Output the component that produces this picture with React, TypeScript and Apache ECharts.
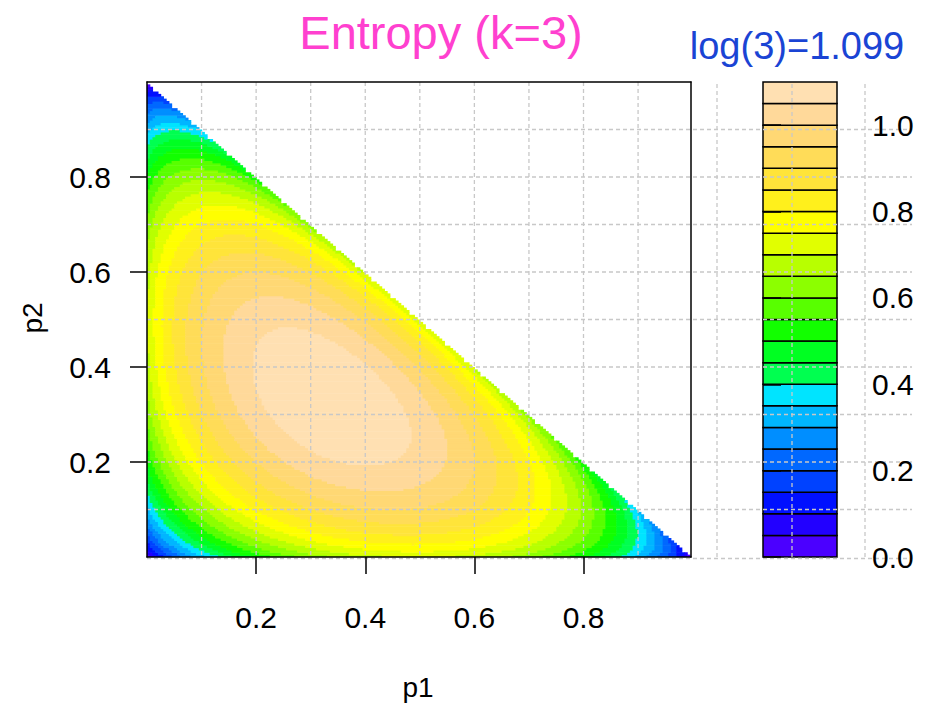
import React, { useEffect, useRef } from 'react';
import * as echarts from 'echarts';

// ---- data ----
const TITLE = 'Entropy (k=3)';
const SUBTITLE = 'log(3)=1.099';
const X_NAME = 'p1';
const Y_NAME = 'p2';
const LEVELS = [0, 0.05, 0.1, 0.15, 0.2, 0.25, 0.3, 0.35, 0.4, 0.45, 0.5, 0.55, 0.6, 0.65, 0.7, 0.75, 0.8, 0.85, 0.9, 0.95, 1.0, 1.05, 1.1];
const LEVEL_COLORS = [
  '#4B00FF', '#2200FF', '#0010FF', '#0042FF', '#0068FF', '#008EFF', '#00B6FF', '#00E4FF',
  '#00FF50', '#00FF22', '#12FF00', '#58FF00', '#8CFF00', '#B8FF00', '#E1FF00', '#FFFF00',
  '#FFF01C', '#FFE43A', '#FFDC58', '#FFD874', '#FFD99A', '#FFE0B2',
];
const X_TICKS = [0.2, 0.4, 0.6, 0.8];
const Y_TICKS = [0.2, 0.4, 0.6, 0.8];
const KEY_TICKS = [0, 0.2, 0.4, 0.6, 0.8, 1.0];
const GRID_STEPS = [0.1, 0.2, 0.3, 0.4, 0.5, 0.6, 0.7, 0.8, 0.9];
const H_GRID_STEPS = [0, 0.1, 0.2, 0.3, 0.4, 0.5, 0.6, 0.7, 0.8, 0.9];
const N = 200; // sampling resolution of the simplex
const MESH = 170; // evaluation mesh of the original contour (edge staircase)

// Shannon entropy of (p1, p2, 1 - p1 - p2) – the quantity this chart plots
function entropy(p1: number, p2: number): number {
  const p3 = 1 - p1 - p2;
  let h = 0;
  for (const p of [p1, p2, p3]) if (p > 0) h -= p * Math.log(p);
  return h;
}

function levelIndex(h: number): number {
  for (let k = 0; k < LEVELS.length - 1; k++) {
    if (h < LEVELS[k + 1]) return k;
  }
  return LEVELS.length - 2;
}

// run-length encoded rows of sampled cells: [x0, x1, y0, y1, level]
function buildRuns(): number[][] {
  const runs: number[][] = [];
  for (let j = 0; j < N; j++) {
    const y0 = j / N, y1 = (j + 1) / N, yc = (j + 0.5) / N;
    let cur = -1, start = 0;
    let i = 0;
    for (; i < N; i++) {
      const xc = (i + 0.5) / N;
      if (Math.floor(xc * MESH) + Math.floor(yc * MESH) > MESH - 2) break;
      const li = levelIndex(entropy(xc, yc));
      if (li !== cur) {
        if (cur >= 0) runs.push([start / N, i / N, y0, y1, cur]);
        cur = li; start = i;
      }
    }
    if (cur >= 0) runs.push([start / N, i / N, y0, y1, cur]);
  }
  return runs;
}

const FONT = '"Liberation Sans", Arial, Helvetica, sans-serif';
const GRID_COLOR = '#c8c8c8';

export default function App() {
  const ref = useRef<HTMLDivElement>(null);
  useEffect(() => {
    document.body.style.margin = '0';
    if (!ref.current) return;
    const chart = echarts.init(ref.current, null, { renderer: 'svg' });
    const runs = buildRuns();
    const keyData = LEVEL_COLORS.map((_, i) => [LEVELS[i], LEVELS[i + 1], i]);
    const X_MAX = 0.997;

    const axisLineStyle = { color: '#000', width: 1.5 };
    chart.setOption({
      animation: false,
      grid: [
        { left: 147, top: 82, width: 544, height: 475 },
        { left: 763, top: 82, width: 74, height: 475 },
      ],
      xAxis: [
        {
          gridIndex: 0, type: 'value', min: 0, max: X_MAX, position: 'bottom', z: 10,
          axisLine: { show: true, onZero: false, lineStyle: axisLineStyle },
          axisTick: { show: true, customValues: X_TICKS, length: 17, lineStyle: axisLineStyle },
          axisLabel: { show: true, customValues: X_TICKS, fontSize: 30, color: '#000', fontFamily: FONT, margin: 45, formatter: (v: number) => v.toFixed(1) },
          splitLine: { show: false },
        },
        {
          gridIndex: 0, type: 'value', min: 0, max: X_MAX, position: 'top', z: 10,
          axisLine: { show: true, onZero: false, lineStyle: axisLineStyle },
          axisTick: { show: false }, axisLabel: { show: false }, splitLine: { show: false },
        },
        { gridIndex: 1, type: 'value', min: 0, max: 1, show: false },
      ],
      yAxis: [
        {
          gridIndex: 0, type: 'value', min: 0, max: 1, position: 'left', z: 10,
          axisLine: { show: true, onZero: false, lineStyle: axisLineStyle },
          axisTick: { show: true, customValues: Y_TICKS, length: 17, lineStyle: axisLineStyle },
          axisLabel: { show: true, customValues: Y_TICKS, fontSize: 30, color: '#000', fontFamily: FONT, margin: 36, formatter: (v: number) => v.toFixed(1) },
          splitLine: { show: false },
        },
        {
          gridIndex: 0, type: 'value', min: 0, max: 1, position: 'right', z: 10,
          axisLine: { show: true, onZero: false, lineStyle: axisLineStyle },
          axisTick: { show: false }, axisLabel: { show: false }, splitLine: { show: false },
        },
        {
          gridIndex: 1, type: 'value', min: 0, max: 1.1, position: 'right', z: 10,
          axisLine: { show: false },
          axisTick: { show: true, customValues: KEY_TICKS, length: 18, lineStyle: axisLineStyle },
          axisLabel: { show: true, customValues: KEY_TICKS, fontSize: 30, color: '#000', fontFamily: FONT, margin: 35, formatter: (v: number) => v.toFixed(1) },
          splitLine: { show: false },
        },
      ],
      series: [
        {
          type: 'custom', xAxisIndex: 0, yAxisIndex: 0, clip: true, z: 2,
          data: runs,
          encode: { x: [0, 1], y: [2, 3] },
          renderItem: (params: any, api: any) => {
            const x0 = api.value(0), x1 = Math.min(api.value(1), X_MAX), y0 = api.value(2), y1 = api.value(3);
            const a = api.coord([x0, y1]);
            const b = api.coord([x1, y0]);
            return {
              type: 'rect',
              shape: { x: a[0], y: a[1], width: b[0] - a[0] + 0.6, height: b[1] - a[1] + 0.6 },
              style: { fill: LEVEL_COLORS[api.value(4)] },
            };
          },
        },
        {
          type: 'custom', xAxisIndex: 2, yAxisIndex: 2, z: 3,
          data: keyData,
          encode: { y: [0, 1] },
          renderItem: (params: any, api: any) => {
            const lo = api.value(0), hi = api.value(1);
            const a = api.coord([0, hi]);
            const b = api.coord([1, lo]);
            return {
              type: 'rect',
              shape: { x: a[0], y: a[1], width: b[0] - a[0], height: b[1] - a[1] },
              style: { fill: LEVEL_COLORS[api.value(2)], stroke: '#000', lineWidth: 1.5 },
            };
          },
        },
      ],
    });

    // dotted reference grid, placed through the main axes
    const px = (v: number) => chart.convertToPixel({ xAxisIndex: 0 }, v) as number;
    const py = (v: number) => chart.convertToPixel({ yAxisIndex: 0 }, v) as number;
    const top = py(1), bottom = py(0), left = px(0);
    const dash = { stroke: GRID_COLOR, lineWidth: 1.3, lineDash: [4, 3] };
    const lines: any[] = [];
    GRID_STEPS.forEach((v) => {
      const x = px(v);
      lines.push({ type: 'line', z: 5, silent: true, shape: { x1: x, y1: top, x2: x, y2: bottom }, style: dash });
    });
    H_GRID_STEPS.forEach((v) => {
      const y = py(v) + (v === 0 ? 1.5 : 0);
      lines.push({ type: 'line', z: 5, silent: true, shape: { x1: left, y1: y, x2: 912, y2: y }, style: dash });
    });
    [717, 792, 865].forEach((x) => {
      lines.push({ type: 'line', z: 5, silent: true, shape: { x1: x, y1: top + 2, x2: x, y2: bottom + 1.5 }, style: dash });
    });

    chart.setOption({
      graphic: {
        elements: [
          ...lines,
          {
            type: 'text', z: 20, x: 441, y: 32,
            style: { text: TITLE, fill: '#FF40CF', fontSize: 47, fontFamily: FONT, align: 'center', verticalAlign: 'middle', textAlign: 'center', textVerticalAlign: 'middle' },
          },
          {
            type: 'text', z: 20, x: 797, y: 46,
            style: { text: SUBTITLE, fill: '#1A44D4', fontSize: 38, fontFamily: FONT, align: 'center', verticalAlign: 'middle', textAlign: 'center', textVerticalAlign: 'middle' },
          },
          {
            type: 'text', z: 20, x: 418, y: 687,
            style: { text: X_NAME, fill: '#000', fontSize: 28, fontFamily: FONT, align: 'center', verticalAlign: 'middle', textAlign: 'center', textVerticalAlign: 'middle' },
          },
          {
            type: 'text', z: 20, x: 32, y: 318, rotation: Math.PI / 2,
            style: { text: Y_NAME, fill: '#000', fontSize: 28, fontFamily: FONT, align: 'center', verticalAlign: 'middle', textAlign: 'center', textVerticalAlign: 'middle' },
          },
        ],
      },
    });

    return () => chart.dispose();
  }, []);
  return <div ref={ref} style={{ width: 930, height: 703 }} />;
}
